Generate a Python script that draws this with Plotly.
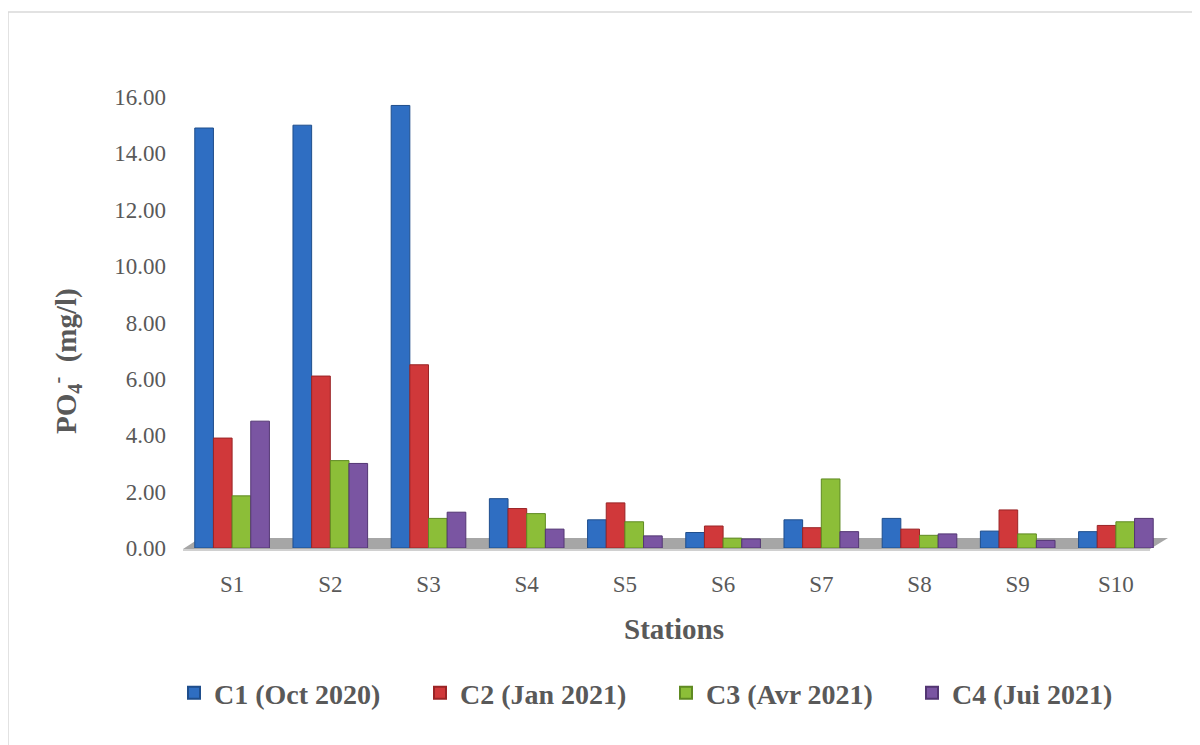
import plotly.graph_objects as go

stations = ["S1", "S2", "S3", "S4", "S5", "S6", "S7", "S8", "S9", "S10"]
c1 = [14.9, 15.0, 15.7, 1.75, 1.0, 0.55, 1.0, 1.05, 0.6, 0.58]
c2 = [3.9, 6.1, 6.5, 1.4, 1.6, 0.78, 0.72, 0.67, 1.35, 0.8]
c3 = [1.85, 3.1, 1.05, 1.22, 0.93, 0.35, 2.45, 0.45, 0.5, 0.93]
c4 = [4.5, 3.0, 1.27, 0.67, 0.43, 0.32, 0.58, 0.5, 0.27, 1.05]
series_names = ["C1 (Oct 2020)", "C2 (Jan 2021)", "C3 (Avr 2021)", "C4 (Jui 2021)"]
y_ticks = [0, 2, 4, 6, 8, 10, 12, 14, 16]

colors = ["#2F6EC2", "#D0383A", "#8CBE38", "#7A55A2"]
edges = ["#1F4E8C", "#9A2426", "#5F8A22", "#533673"]

fig = go.Figure()
for name, vals, col, ec in zip(series_names, [c1, c2, c3, c4], colors, edges):
    fig.add_trace(go.Bar(
        x=stations, y=vals, name=f"<b>{name}</b>",
        marker=dict(color=col, line=dict(color=ec, width=1)),
    ))

FONT = "Liberation Serif"
OFF = 8  # page body offset
W, H = 1192, 737
L, R, T, B = 183 - OFF, 1165 - OFF, 97 - OFF, 548 - OFF


def px(sx):
    return (sx - OFF - L) / (R - L)


def py(sy):
    return (B - (sy - OFF)) / (B - T)


shapes = [
    dict(type="path", xref="paper", yref="paper", layer="below",
         path=f"M {px(183)},{py(549)} L {px(1150)},{py(549)} "
              f"L {px(1168)},{py(538)} L {px(200)},{py(538)} Z",
         fillcolor="#A6A6A6", line=dict(width=0)),
    dict(type="line", xref="paper", yref="paper",
         x0=px(183), x1=px(1150), y0=py(550), y1=py(550),
         line=dict(color="#D0D0D0", width=2)),
    dict(type="line", xref="paper", yref="paper",
         x0=px(8), x1=px(1210), y0=py(12), y1=py(12),
         line=dict(color="#D9D9D9", width=1.5)),
    dict(type="line", xref="paper", yref="paper",
         x0=px(8), x1=px(8), y0=py(12), y1=py(760),
         line=dict(color="#D9D9D9", width=1.5)),
]

fig.update_layout(
    width=W, height=H,
    margin=dict(l=L, r=W - R, t=T, b=H - B, autoexpand=False),
    paper_bgcolor="white", plot_bgcolor="white",
    barmode="group", bargap=0.24, bargroupgap=0.0,
    font=dict(family=FONT, color="#595959", size=23),
    xaxis=dict(
        showgrid=False, showline=False, ticks="", ticklabelstandoff=20,
        tickfont=dict(size=23, color="#595959"),
        title=dict(text="<b>Stations</b>", font=dict(size=29, color="#595959"), standoff=22),
        automargin=False,
    ),
    yaxis=dict(
        range=[0, 16], tickvals=y_ticks, tickformat=".2f",
        showgrid=False, showline=False, zeroline=False, ticks="", ticklabelstandoff=16,
        tickfont=dict(size=23, color="#595959"), automargin=False,
    ),
    legend=dict(
        orientation="h", x=px(666), xanchor="center", y=py(693), yanchor="middle",
        font=dict(size=28, color="#595959"), entrywidth=201, entrywidthmode="pixels",
        itemsizing="constant",
    ),
    annotations=[dict(
        text="<b>PO<sub>4</sub><sup>-</sup>  (mg/l)</b>", textangle=-90,
        xref="paper", yref="paper", x=px(66), y=py(361), xanchor="center", yanchor="middle",
        showarrow=False, font=dict(size=29, color="#595959"),
    )],
    shapes=shapes,
)

fig.write_html("out.html")
